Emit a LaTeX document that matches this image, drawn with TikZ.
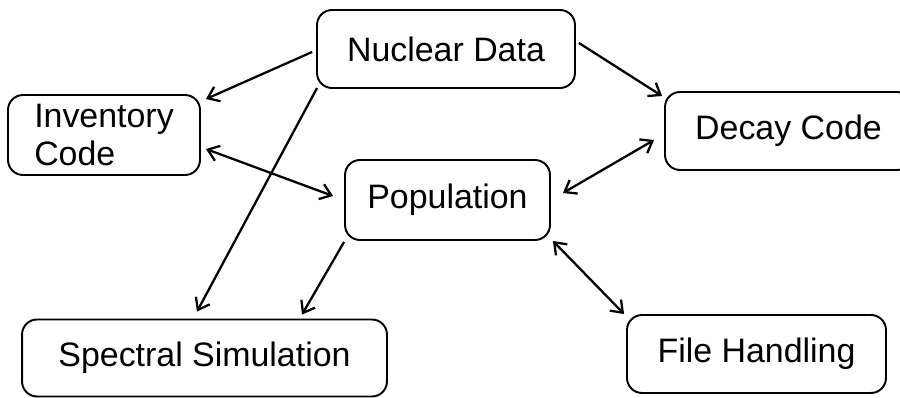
\documentclass[tikz,border=0pt]{standalone}
\usepackage{fontspec}
\setmainfont{Liberation Sans}
\usetikzlibrary{arrows.meta}

\begin{document}
\begin{tikzpicture}[x=0.02cm, y=-0.02cm, font=\fontsize{19.3pt}{21.5pt}\selectfont,
  box/.style={draw, line width=1.1pt, rounded corners=0.3cm, inner sep=0pt, align=center},
  link/.style={line width=1.3pt, -{Straight Barb[length=6pt, width=9pt]}},
  both/.style={line width=1.3pt, {Straight Barb[length=6pt, width=9pt]}-{Straight Barb[length=6pt, width=9pt]}}]
  \clip (0,0) rectangle (900,398);
  % ---- modules ----
  \node[box, minimum width=5.16cm, minimum height=1.56cm] (nuc) at (446,49) {Nuclear Data};
  \node[box, minimum width=3.84cm, minimum height=1.6cm, align=left] (inv) at (104,135) {Inventory\\Code};
  \node[box, minimum width=4.94cm, minimum height=1.56cm] (dec) at (788.5,131) {Decay Code};
  \node[box, minimum width=4.1cm, minimum height=1.6cm] (pop) at (447.5,200) {Population};
  \node[box, minimum width=7.3cm, minimum height=1.54cm] (spe) at (204.5,358) {Spectral Simulation};
  \node[box, minimum width=5.18cm, minimum height=1.56cm] (fil) at (756.5,354) {File Handling};
  % ---- data flow ----
  \draw[link] ([shift={(-4,3)}]nuc.west) -- ([shift={(5,5)}]inv.north east);
  \draw[link] ([shift={(3,-6)}]nuc.east) -- ([shift={(-2,5)}]dec.north west);
  \draw[link] ([shift={(1,-1)}]nuc.south west) -- ([shift={(-7.5,-7)}]spe.north);
  \draw[both] ([shift={(5,14)}]inv.east) -- ([shift={(-11,-4)}]pop.west);
  \draw[both] ([shift={(12,-7)}]pop.east) -- ([shift={(-10,9)}]dec.west);
  \draw[link] ([shift={(0,1)}]pop.south west) -- ([shift={(97.5,-4)}]spe.north);
  \draw[both] ([shift={(2,0)}]pop.south east) -- ([shift={(-2,0)}]fil.north west);
\end{tikzpicture}
\end{document}
